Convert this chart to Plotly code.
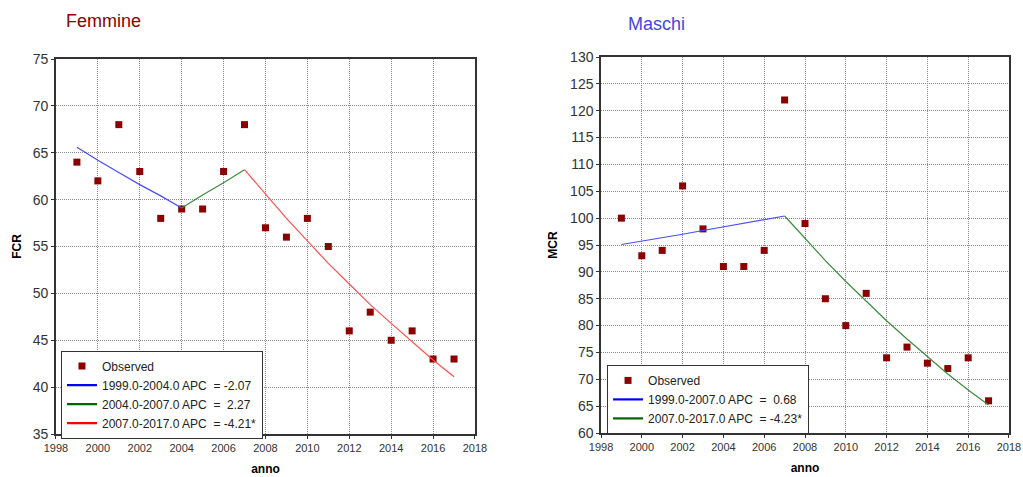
import plotly.graph_objects as go

years = list(range(1999, 2018))

# Femmine (FCR) observed
fcr_obs = [64, 62, 68, 63, 58, 59, 59, 63, 68, 57, 56, 58, 55, 46, 48, 45, 46, 43, 43]
# Femmine fitted segments
f_seg1_years = [1999, 2000, 2001, 2002, 2003, 2004]
f_seg1_vals = [65.6, 64.2, 62.9, 61.6, 60.4, 59.1]
f_seg2_years = [2004, 2005, 2006, 2007]
f_seg2_vals = [59.1, 60.5, 61.8, 63.2]
f_seg3_years = [2007, 2008, 2009, 2010, 2011, 2012, 2013, 2014, 2015, 2016, 2017]
f_seg3_vals = [63.2, 60.6, 58.0, 55.6, 53.2, 51.0, 48.8, 46.8, 44.8, 42.9, 41.1]
f_labels = ["1999.0-2004.0 APC  = -2.07",
            "2004.0-2007.0 APC  =  2.27",
            "2007.0-2017.0 APC  = -4.21*"]

# Maschi (MCR) observed
mcr_obs = [100, 93, 94, 106, 98, 91, 91, 94, 122, 99, 85, 80, 86, 74, 76, 73, 72, 74, 66]
m_seg1_years = [1999, 2000, 2001, 2002, 2003, 2004, 2005, 2006, 2007]
m_seg1_vals = [95.1, 95.7, 96.4, 97.0, 97.7, 98.4, 99.0, 99.7, 100.4]
m_seg2_years = [2007, 2008, 2009, 2010, 2011, 2012, 2013, 2014, 2015, 2016, 2017]
m_seg2_vals = [100.4, 96.2, 92.1, 88.2, 84.5, 80.9, 77.5, 74.2, 71.0, 68.0, 65.2]
m_labels = ["1999.0-2007.0 APC  =  0.68",
            "2007.0-2017.0 APC  = -4.23*"]

x_ticks = list(range(1998, 2019, 2))
FONT = "Liberation Sans, Arial, sans-serif"
MARK = "#8B0000"

fig = go.Figure()

def add_panel(xa, ya, legend, obs, segs, fit_colors, leg_colors, labels):
    fig.add_trace(go.Scatter(x=years, y=obs, mode="markers", name="Observed",
                             marker=dict(symbol="square", size=7, color=MARK,
                                         line=dict(width=0)),
                             xaxis=xa, yaxis=ya, legend=legend))
    for (sx, sy), fc, lc, lab in zip(segs, fit_colors, leg_colors, labels):
        fig.add_trace(go.Scatter(x=sx, y=sy, mode="lines", name=lab,
                                 line=dict(color=fc, width=1.2),
                                 showlegend=False, xaxis=xa, yaxis=ya))
        fig.add_trace(go.Scatter(x=[None], y=[None], mode="lines", name=lab,
                                 line=dict(color=lc, width=2.2),
                                 xaxis=xa, yaxis=ya, legend=legend))

add_panel("x", "y", "legend", fcr_obs,
          [(f_seg1_years, f_seg1_vals), (f_seg2_years, f_seg2_vals), (f_seg3_years, f_seg3_vals)],
          ["#4B4BFF", "#3C8C3C", "#FF4F4F"],
          ["#0000FF", "#006400", "#FF0000"], f_labels)
add_panel("x2", "y2", "legend2", mcr_obs,
          [(m_seg1_years, m_seg1_vals), (m_seg2_years, m_seg2_vals)],
          ["#4B4BFF", "#3C8C3C"],
          ["#0000FF", "#006400"], m_labels)

axis_common = dict(showline=True, linecolor="#333333", linewidth=1.5, mirror=True,
                   showgrid=True, gridcolor="#8C8C8C", griddash="1px,1px", gridwidth=1,
                   zeroline=False, ticks="outside", ticklen=3, tickcolor="#333333",
                   automargin=False)

fig.update_layout(
    width=1023, height=477,
    margin=dict(l=0, r=0, t=0, b=0),
    paper_bgcolor="white", plot_bgcolor="white",
    font=dict(family=FONT, color="#333333"),
    xaxis=dict(domain=[0.0547, 0.4643], range=[1998, 2018], tickvals=x_ticks,
               tickfont=dict(size=11), anchor="y",
               title=dict(text="<b>anno</b>", font=dict(size=12, color="black"), standoff=12),
               **axis_common),
    yaxis=dict(domain=[0.0901, 0.8763], range=[35, 75], dtick=5,
               tickfont=dict(size=14), anchor="x",
               title=dict(text="<b>FCR</b>", font=dict(size=12, color="black"), standoff=9),
               **axis_common),
    xaxis2=dict(domain=[0.5875, 0.9863], range=[1998, 2018], tickvals=x_ticks,
                tickfont=dict(size=11), anchor="y2",
                title=dict(text="<b>anno</b>", font=dict(size=12, color="black"), standoff=12),
                **axis_common),
    yaxis2=dict(domain=[0.0922, 0.8805], range=[60, 130], dtick=5,
                tickfont=dict(size=14), anchor="x2",
                title=dict(text="<b>MCR</b>", font=dict(size=12, color="black"), standoff=10),
                **axis_common),
    legend=dict(x=0.0596, y=0.265, xanchor="left", yanchor="top",
                bgcolor="white", bordercolor="#333333", borderwidth=1,
                font=dict(size=12, color="#222222"), tracegroupgap=0),
    legend2=dict(x=0.5934, y=0.235, xanchor="left", yanchor="top",
                 bgcolor="white", bordercolor="#333333", borderwidth=1,
                 font=dict(size=12, color="#222222"), tracegroupgap=0),
    annotations=[
        dict(text="Femmine", x=64 / 1023, y=0.956, xref="paper", yref="paper",
             xanchor="left", yanchor="middle", showarrow=False,
             font=dict(size=18, color="#8B0000", family=FONT)),
        dict(text="Maschi", x=626 / 1023, y=0.950, xref="paper", yref="paper",
             xanchor="left", yanchor="middle", showarrow=False,
             font=dict(size=18, color="#4646DC", family=FONT)),
    ],
)

fig.write_html("out.html", config={"displayModeBar": False},
               post_script="document.body.style.margin='0';document.body.style.padding='0';")
